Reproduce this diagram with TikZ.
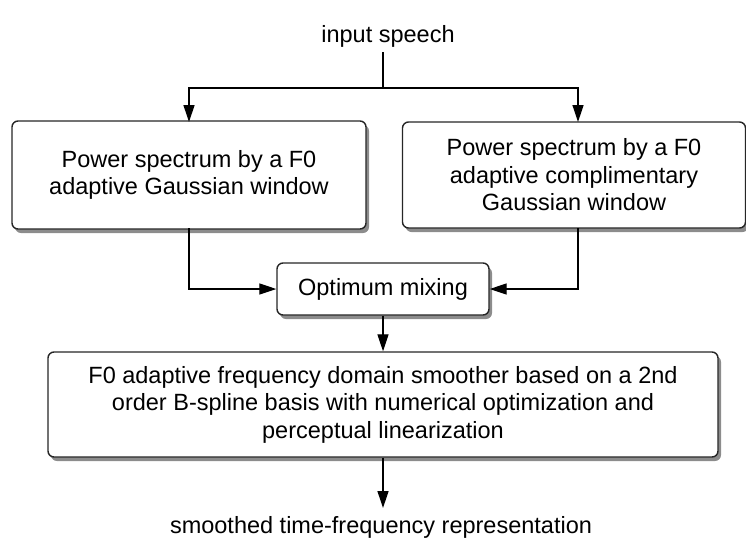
\documentclass[tikz,border=0pt]{standalone}
\usepackage{fontspec}
\setmainfont{Liberation Sans}
\usetikzlibrary{arrows.meta,shadows,calc}
\begin{document}
\begin{tikzpicture}[x=1pt,y=-1pt,
  font=\fontsize{23.5}{27.5}\selectfont,
  conn/.style={line width=1.3pt,-{Triangle[length=17pt,width=11pt]}},
  plain/.style={line width=1.3pt},
  procbox/.style={draw=black!85,line width=1.4pt,rounded corners=6pt,fill=white,
    align=center,inner sep=0pt,
    drop shadow={shadow xshift=3pt,shadow yshift=-4pt,fill=black!60,opacity=0.75}},
  textlabel/.style={inner sep=0pt,align=center}]
\useasboundingbox (0,0) rectangle (746,538);

\node[textlabel] (in) at (388,36) {input speech};
\coordinate (inbot) at (383,52);
\coordinate (split) at (383,88);

\node[procbox,minimum width=354pt,minimum height=108pt] (gauss) at (189,175)
  {Power spectrum by a F0\\adaptive Gaussian window};
\node[procbox,minimum width=343pt,minimum height=106pt] (comp) at (574,175)
  {Power spectrum by a F0\\adaptive complimentary\\Gaussian window};
\node[procbox,minimum width=212pt,minimum height=52pt] (mix) at (383,289)
  {Optimum mixing};
\node[procbox,minimum width=670pt,minimum height=105pt] (smooth) at (383,404.5)
  {F0 adaptive frequency domain smoother based on a 2nd\\order B-spline basis with numerical optimization and\\perceptual linearization};
\node[textlabel] (out) at (381,527) {smoothed time-frequency representation};

\coordinate (gtop) at (189,122);
\coordinate (ctop) at (578,122);
\coordinate (gbot) at (189,228);
\coordinate (cbot) at (578,228);
\coordinate (outtop) at (383,508);

\draw[plain] (inbot) -- (split);
\draw[conn] (split) -| (gtop);
\draw[conn] (split) -| (ctop);
\draw[conn] (gbot) |- (mix.west);
\draw[conn] (cbot) |- (mix.east);
\draw[conn] (mix) -- (smooth);
\draw[conn] (smooth.south) -- (outtop);
\end{tikzpicture}
\end{document}
